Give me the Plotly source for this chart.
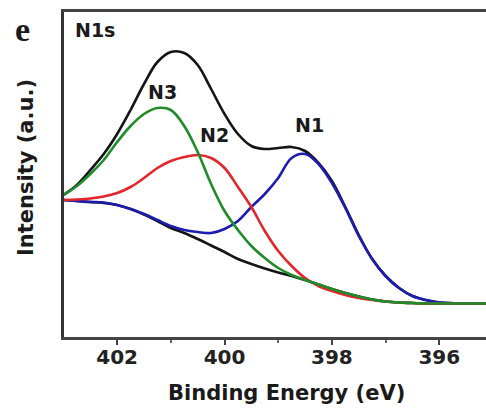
import plotly.graph_objects as go

# N1s core-level spectrum: binding energy grid (eV) and fitted curves (a.u.)
binding_energy = [403.00, 402.75, 402.50, 402.25, 402.00, 401.75, 401.50, 401.25,
                  401.00, 400.75, 400.50, 400.25, 400.00, 399.75, 399.50, 399.25,
                  399.00, 398.75, 398.50, 398.25, 398.00, 397.75, 397.50, 397.25,
                  397.00, 396.75, 396.50, 396.25, 396.00, 395.50, 395.10]

envelope = [142, 152, 167, 183, 203, 227, 253, 275,
            285, 284, 272, 248, 223, 203, 191, 188,
            189, 190, 186, 174, 156, 130, 102, 78,
            61, 49, 41, 37, 34.5, 33.5, 33.5]

background = [137, 136, 135, 134, 132, 128, 122.5, 116,
              109, 104, 98, 91.5, 85, 78, 73, 68.5,
              64.5, 61, 57, 52.5, 48, 44, 40.5, 37.5,
              35.5, 34.5, 34, 33.5, 33.5, 33.5, 33.5]

n1_peak = [137, 136, 135, 134.5, 132, 128, 123, 117,
           111, 107, 105, 104, 108, 116, 130, 143,
           159, 179, 183, 173, 154, 129, 101, 78,
           61, 49, 41, 37, 34.5, 33.5, 33.5]

n2_peak = [137, 137.5, 138.5, 140.5, 144, 150, 159, 169,
           176, 180, 182, 179, 169, 150, 130, 106,
           86, 71, 59, 51, 46, 42, 39, 37,
           35.5, 34.5, 34, 33.5, 33.5, 33.5, 33.5]

n3_peak = [142, 151, 163, 177, 195, 211, 223, 229,
           227, 211, 185, 153, 126, 107, 91, 79,
           69, 62, 57, 52.5, 48, 44, 40.5, 37.5,
           35.5, 34.5, 34, 33.5, 33.5, 33.5, 33.5]

major_ticks = [402, 400, 398, 396]
minor_ticks = [401, 399, 397]

peak_labels = ["N1", "N2", "N3"]
label_energy = [398.42, 400.19, 401.16]
label_intensity = [212, 202, 245]

FONT = "DejaVu Sans"
TEXT = "#1a1a1a"

fig = go.Figure()

curves = [
    (background, "#141414"),
    (envelope, "#141414"),
    (n1_peak, "#1c1cb0"),
    (n2_peak, "#e2262b"),
    (n3_peak, "#1f8c2a"),
]
for values, color in curves:
    fig.add_trace(go.Scatter(
        x=binding_energy, y=values, mode="lines",
        line=dict(color=color, width=2.6, shape="spline", smoothing=1.0),
        showlegend=False, hoverinfo="skip",
    ))

for text, xe, yi in zip(peak_labels, label_energy, label_intensity):
    fig.add_annotation(x=xe, y=yi, xref="x", yref="y", text=text, showarrow=False,
                       xanchor="center", yanchor="middle",
                       font=dict(family=FONT, size=19, color=TEXT, weight="bold"))


def paper_text(x, y, text, size, family=FONT, angle=0):
    fig.add_annotation(x=x, y=y, xref="paper", yref="paper", text=text,
                       showarrow=False, xanchor="center", yanchor="middle",
                       textangle=angle,
                       font=dict(family=family, size=size, color=TEXT, weight="bold"))


paper_text(0.073, 0.945, "N1s", 19)
paper_text(-0.0995, 0.945, "e", 34, family="Liberation Serif")
paper_text(-0.09, 0.52, "Intensity (a.u.)", 21, angle=-90)
paper_text(0.528, -0.172, "Binding Energy (eV)", 21)

fig.update_layout(
    width=486, height=408,
    margin=dict(l=64, r=0, t=12, b=71),
    paper_bgcolor="white", plot_bgcolor="white",
    xaxis=dict(
        range=[402.99, 395.13], tickmode="array", tickvals=major_ticks,
        ticktext=[str(v) for v in major_ticks],
        ticks="outside", ticklen=5, tickwidth=2, tickcolor="#444",
        ticklabelstandoff=-5,
        minor=dict(tickmode="array", tickvals=minor_ticks, ticks="outside",
                   ticklen=3, tickwidth=2, tickcolor="#666"),
        showline=True, linecolor="#444", linewidth=2.5, mirror=True,
        showgrid=False, zeroline=False,
        tickfont=dict(family=FONT, size=20, color="#222", weight="bold"),
    ),
    yaxis=dict(
        range=[0, 325], showticklabels=False, ticks="",
        showline=True, linecolor="#333", linewidth=2.5, mirror=False,
        showgrid=False, zeroline=False,
    ),
)

fig.write_html("out.html")
